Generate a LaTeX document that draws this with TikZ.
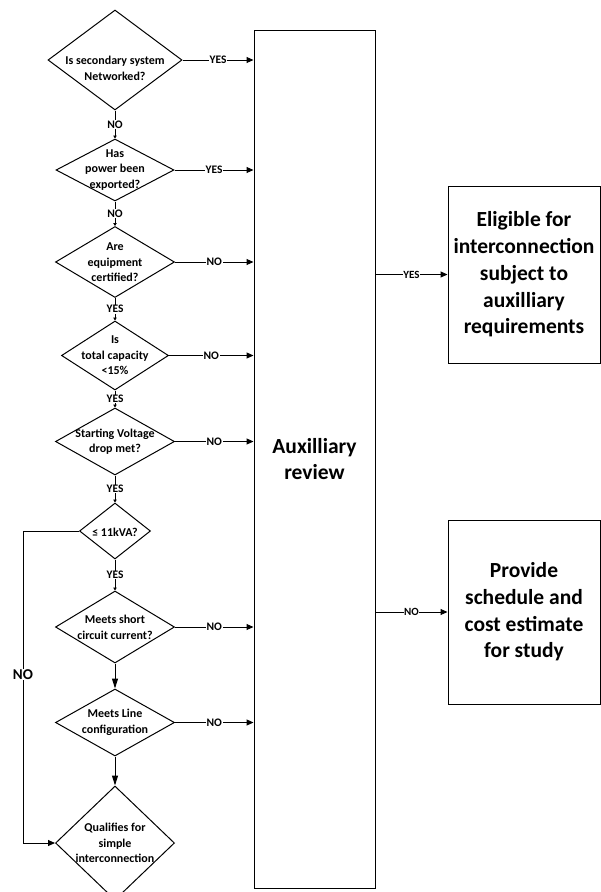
\documentclass[tikz,border=0pt]{standalone}
\usepackage{fontspec}
\setmainfont{Carlito}
\usepackage{tikz}
\usetikzlibrary{shapes.geometric,arrows.meta,positioning}
\tikzset{
  decision/.style={diamond, draw, line width=1pt, inner sep=0pt},
  qtext/.style={font=\bfseries\fontsize{12}{15.5}\selectfont, align=center, inner sep=0pt},
  box/.style={rectangle, draw, line width=1pt, inner sep=0pt, align=center, font=\bfseries\fontsize{21.5}{26.7}\selectfont},
  answer/.style={fill=white, inner sep=0.6pt, font=\bfseries\fontsize{11.5}{13}\selectfont},
  arrow/.style={-{Triangle[length=7pt, width=6pt]}, line width=1pt},
  longarrow/.style={-{Triangle[length=10pt, width=6pt]}, line width=1pt},
  tinyarrow/.style={-{Triangle[length=3pt, width=3.5pt]}, line width=1pt},
}

\begin{document}
\begin{tikzpicture}[x=1pt, y=-1pt]
  \clip (0,0) rectangle (601,892);

  % Review box and the two outcomes
  \node[box, minimum width=121pt, minimum height=858pt] (aux) at (314.5,459) {Auxilliary\\review};
  \node[box, minimum width=152pt, minimum height=177pt] (elig) at (524,274.5) {Eligible for\\interconnection\\subject to\\auxilliary\\requirements};
  \node[box, minimum width=152pt, minimum height=184pt] (study) at (524,612) {Provide\\schedule and\\cost estimate\\for study};

  % Decisions - empty diamonds, questions written on top
  \node[decision, minimum width=134pt, minimum height=100pt] (d1) at (115,60) {};
  \node[decision, minimum width=118pt, minimum height=62pt] (d2) at (115,170) {};
  \node[decision, minimum width=119pt, minimum height=71pt] (d3) at (115,262) {};
  \node[decision, minimum width=107pt, minimum height=69pt] (d4) at (115,355.5) {};
  \node[decision, minimum width=119pt, minimum height=67pt] (d5) at (115,441.5) {};
  \node[decision, minimum width=71pt, minimum height=56pt] (d6) at (115,531) {};
  \node[decision, minimum width=119pt, minimum height=72pt] (d7) at (115,627) {};
  \node[decision, minimum width=119pt, minimum height=67pt] (d8) at (115,722.5) {};
  \node[decision, minimum width=119pt, minimum height=114pt] (d9) at (115,843) {};

  \node[qtext] (t1) at (115,68.5) {Is secondary system\\Networked?};
  \node[qtext] (t2) at (115,170) {Has\\power been\\exported?};
  \node[qtext] (t3) at (115,262.5) {Are\\equipment\\certified?};
  \node[qtext] (t4) at (115,355.5) {Is\\total capacity\\<15\%};
  \node[qtext] (t5) at (115,441.5) {Starting Voltage\\drop met?};
  \node[qtext] (t6) at (115,532) {≤ 11kVA?};
  \node[qtext] (t7) at (115,627.5) {Meets short\\circuit current?};
  \node[qtext] (t8) at (115,722.5) {Meets Line\\configuration};
  \node[qtext] (t9) at (115,843) {Qualifies for\\simple\\interconnection};

  % Down the chain
  \draw[tinyarrow] (d1.south) -- node[answer] {NO} (d2.north);
  \draw[tinyarrow] (d2.south) -- node[answer] {NO} (d3.north);
  \draw[tinyarrow] (d3.south) -- node[answer] {YES} (d4.north);
  \draw[tinyarrow] (d4.south) -- node[answer] {YES} (d5.north);
  \draw[tinyarrow] (d5.south) -- node[answer] {YES} (d6.north);
  \draw[tinyarrow] (d6.south) -- node[answer] {YES} (d7.north);
  \draw[longarrow] (d7.south) -- (d8.north);
  \draw[longarrow] (d8.south) -- (d9.north);

  % Over to the review
  \draw[arrow] (d1.east) -- node[answer] {YES} (d1.east -| aux.west);
  \draw[arrow] (d2.east) -- node[answer] {YES} (d2.east -| aux.west);
  \draw[arrow] (d3.east) -- node[answer] {NO} (d3.east -| aux.west);
  \draw[arrow] (d4.east) -- node[answer] {NO} (d4.east -| aux.west);
  \draw[arrow] (d5.east) -- node[answer] {NO} (d5.east -| aux.west);
  \draw[arrow] (d7.east) -- node[answer] {NO} (d7.east -| aux.west);
  \draw[arrow] (d8.east) -- node[answer] {NO} (d8.east -| aux.west);

  % Small systems skip straight down
  \coordinate (noturn) at (23,531);
  \draw[arrow] (d6.west) -- (noturn) |- node[pos=0.23, answer, font=\bfseries\fontsize{15}{17}\selectfont] {NO} (d9.west);

  % Outcomes
  \draw[arrow] (aux.east |- elig.west) -- node[answer, font=\bfseries\fontsize{11}{13}\selectfont] {YES} (elig.west);
  \draw[arrow] (aux.east |- study.west) -- node[answer, font=\bfseries\fontsize{11}{13}\selectfont] {NO} (study.west);

\end{tikzpicture}
\end{document}
